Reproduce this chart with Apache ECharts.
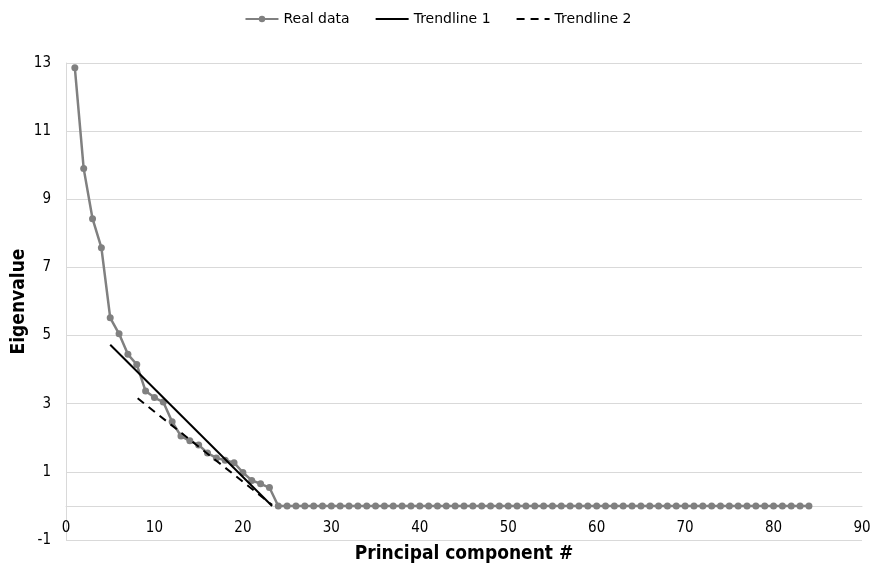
<!DOCTYPE html>
<html>
<head>
<meta charset="utf-8">
<script src="https://cdn.jsdelivr.net/npm/echarts@6/dist/echarts.min.js"></script>
<style>
  html, body { margin: 0; padding: 0; background: #fff; }
  #main { width: 876px; height: 568px; }
</style>
</head>
<body>
<div id="main"></div>
<script>
var myChart = echarts.init(document.getElementById('main'));

// eigenvalues for components 1..23, the rest are zero up to 84
var eigenHead = [12.86, 9.90, 8.43, 7.58, 5.52, 5.05, 4.45, 4.15, 3.37, 3.18,
                 3.05, 2.47, 2.05, 1.91, 1.79, 1.55, 1.41, 1.34, 1.27, 0.98,
                 0.75, 0.65, 0.54];
var lastComponent = 84;

// trendline end points [x, y]
var trend1 = [[5, 4.73], [23.3, 0]];
var trend2 = [[8.1, 3.16], [23.3, 0.03]];

var xTicks = { min: 0, max: 90, interval: 10 };
var yTicks = { min: -1, max: 13, interval: 2 };

var realData = [];
for (var i = 1; i <= lastComponent; i++) {
    var v = i <= eigenHead.length ? eigenHead[i - 1] : 0;
    realData.push([i, v]);
}

var fontName = 'DejaVu Sans Condensed, DejaVu Sans, sans-serif';

var option = {
    animation: false,
    textStyle: { fontFamily: fontName },
    legend: {
        top: 7,
        left: 'center',
        itemWidth: 33,
        itemHeight: 8,
        itemGap: 25,
        textStyle: { fontSize: 14, color: '#000', fontFamily: 'DejaVu Sans, sans-serif' },
        data: ['Real data', 'Trendline 1', 'Trendline 2']
    },
    grid: { left: 66, right: 14, top: 63, bottom: 28, containLabel: false, outerBoundsMode: 'none' },
    xAxis: {
        type: 'value',
        min: xTicks.min,
        max: xTicks.max,
        interval: xTicks.interval,
        name: 'Principal component #',
        nameLocation: 'middle',
        nameGap: 5,
        nameMoveOverlap: false,
        nameTextStyle: { fontSize: 19, fontWeight: 'bold', color: '#000', fontFamily: fontName },
        axisLine: { onZero: true, lineStyle: { color: '#d9d9d9', width: 1 } },
        axisTick: { show: false },
        splitLine: { show: false },
        // labels sit just under the zero line, as in the source
        axisLabel: { fontSize: 15, color: '#000', margin: -19, fontFamily: fontName }
    },
    yAxis: {
        type: 'value',
        min: yTicks.min,
        max: yTicks.max,
        interval: yTicks.interval,
        name: 'Eigenvalue',
        nameLocation: 'middle',
        nameGap: 37,
        nameMoveOverlap: false,
        nameTextStyle: { fontSize: 19, fontWeight: 'bold', color: '#000', fontFamily: fontName },
        axisLine: { show: true, lineStyle: { color: '#d9d9d9', width: 1 } },
        axisTick: { show: false },
        splitLine: { show: true, lineStyle: { color: '#d9d9d9', width: 1 } },
        axisLabel: { fontSize: 15, color: '#000', margin: 15, fontFamily: fontName }
    },
    series: [
        {
            name: 'Real data',
            type: 'line',
            data: realData,
            symbol: 'circle',
            symbolSize: 7,
            lineStyle: { color: '#808080', width: 2.5 },
            itemStyle: { color: '#808080' },
            z: 2
        },
        {
            name: 'Trendline 1',
            type: 'line',
            data: trend1,
            symbol: 'none',
            lineStyle: { color: '#000', width: 2 },
            itemStyle: { color: 'rgba(0,0,0,0)' },
            z: 3
        },
        {
            name: 'Trendline 2',
            type: 'line',
            data: trend2,
            symbol: 'none',
            lineStyle: { color: '#000', width: 2, type: [8, 6] },
            itemStyle: { color: 'rgba(0,0,0,0)' },
            z: 3
        }
    ]
};
myChart.setOption(option);
</script>
</body>
</html>
